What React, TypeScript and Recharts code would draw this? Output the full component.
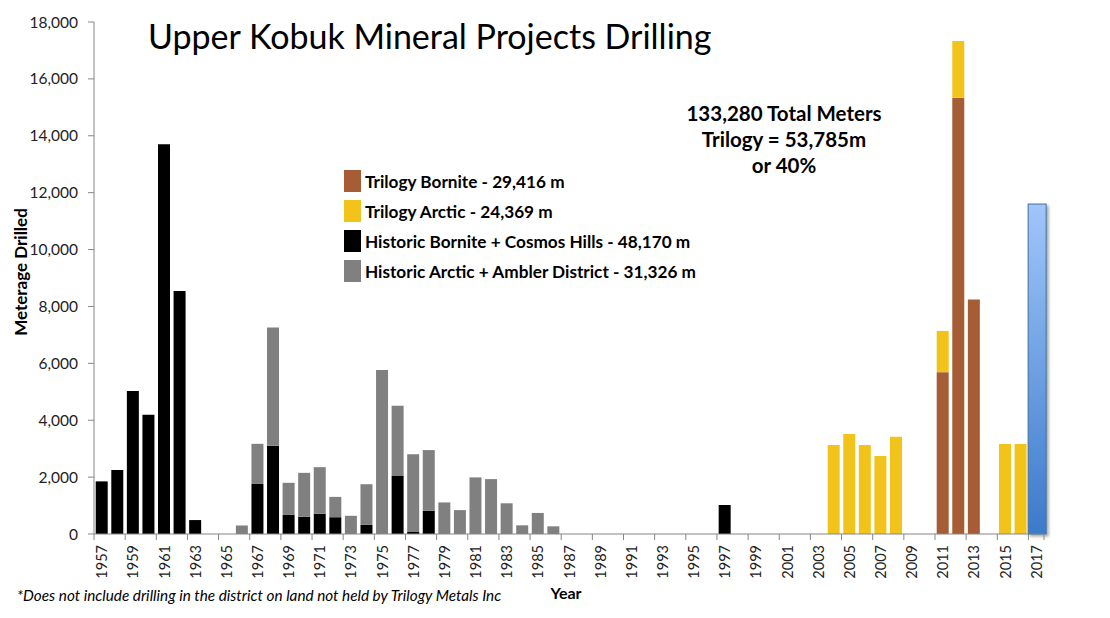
import React from 'react'
import { BarChart, Bar, XAxis, YAxis } from 'recharts'

const years = [
  1957, 1958, 1959, 1960, 1961, 1962, 1963, 1964, 1965, 1966,
  1967, 1968, 1969, 1970, 1971, 1972, 1973, 1974, 1975, 1976,
  1977, 1978, 1979, 1980, 1981, 1982, 1983, 1984, 1985, 1986,
  1987, 1988, 1989, 1990, 1991, 1992, 1993, 1994, 1995, 1996,
  1997, 1998, 1999, 2000, 2001, 2002, 2003, 2004, 2005, 2006,
  2007, 2008, 2009, 2010, 2011, 2012, 2013, 2014, 2015, 2016,
  2017,
]

// metres drilled per year, by series (years not listed are 0)
const historicBornite: Record<number, number> = {
  1957: 1850, 1958: 2250, 1959: 5030, 1960: 4190, 1961: 13700, 1962: 8540, 1963: 490,
  1967: 1760, 1968: 3100, 1969: 670, 1970: 610, 1971: 710, 1972: 590, 1974: 320,
  1976: 2040, 1977: 70, 1978: 820, 1997: 1020,
}

const historicArctic: Record<number, number> = {
  1966: 300, 1967: 1410, 1968: 4160, 1969: 1130, 1970: 1540, 1971: 1640, 1972: 715,
  1973: 640, 1974: 1430, 1975: 5770, 1976: 2470, 1977: 2730, 1978: 2130, 1979: 1110,
  1980: 840, 1981: 1990, 1982: 1930, 1983: 1080, 1984: 305, 1985: 740, 1986: 270,
}

const trilogyBornite: Record<number, number> = { 2011: 5690, 2012: 15340, 2013: 8240 }

const trilogyArctic: Record<number, number> = {
  2004: 3130, 2005: 3520, 2006: 3130, 2007: 2740, 2008: 3420,
  2011: 1450, 2012: 1990, 2015: 3160, 2016: 3160,
}

const program2017: Record<number, number> = { 2017: 11600 }

const yTicks = [0, 2000, 4000, 6000, 8000, 10000, 12000, 14000, 16000, 18000]

const legendItems = [
  { name: 'Trilogy Bornite - 29,416 m', color: '#A65D36' },
  { name: 'Trilogy Arctic - 24,369 m', color: '#F1C31B' },
  { name: 'Historic Bornite + Cosmos Hills - 48,170 m', color: '#000000' },
  { name: 'Historic Arctic + Ambler District - 31,326 m', color: '#808080' },
]

const noteLines = ['133,280 Total Meters', 'Trilogy = 53,785m', 'or 40%']

const data = years.map((year) => ({
  year,
  historicBornite: historicBornite[year] ?? 0,
  historicArctic: historicArctic[year] ?? 0,
  trilogyBornite: trilogyBornite[year] ?? 0,
  trilogyArctic: trilogyArctic[year] ?? 0,
  program2017: program2017[year] ?? 0,
}))

const FONT = 'Lato, "Liberation Sans", sans-serif'
const AXIS = '#868686'
const PLOT_LEFT = 94
const PLOT_RIGHT = 1044
const band = (PLOT_RIGHT - PLOT_LEFT) / years.length

function YearTick(props: any) {
  const { x, y, payload } = props
  const ty = y + 11
  return (
    <g>
      <line x1={x - band / 2} x2={x - band / 2} y1={y} y2={y + 6} stroke={AXIS} />
      {payload.value === 2017 && (
        <line x1={x + band / 2} x2={x + band / 2} y1={y} y2={y + 6} stroke={AXIS} />
      )}
      <text
        x={x}
        y={ty}
        transform={`rotate(-90 ${x} ${ty})`}
        textAnchor="end"
        dominantBaseline="central"
        fontSize={14.5}
        fontFamily={FONT}
        fill="#222"
      >
        {payload.value}
      </text>
    </g>
  )
}

function BlueBar(props: any) {
  const { x, y, width, height } = props
  if (!height) return null
  return (
    <rect
      x={x - 2}
      y={y}
      width={width + 6}
      height={height}
      fill="url(#blueGrad)"
      stroke="#41719C"
      strokeWidth={1}
      filter="url(#barShadow)"
    />
  )
}

export default function App() {
  return (
    <div style={{ position: 'relative', width: 1110, height: 618, background: '#fff', fontFamily: FONT, color: '#000' }}>
      <style>{'body{margin:0}'}</style>
      <BarChart
        width={1110}
        height={618}
        data={data}
        margin={{ top: 22, right: 66, bottom: 0, left: 0 }}
        barCategoryGap="11%"
      >
        <defs>
          <linearGradient id="blueGrad" x1="0" y1="0" x2="0" y2="1">
            <stop offset="0%" stopColor="#A0C6FA" />
            <stop offset="100%" stopColor="#3C7ACB" />
          </linearGradient>
          <filter id="barShadow" x="-30%" y="-5%" width="160%" height="110%">
            <feDropShadow dx="2" dy="2" stdDeviation="1.5" floodColor="#000" floodOpacity="0.35" />
          </filter>
        </defs>
        <XAxis
          dataKey="year"
          height={84}
          interval={1}
          tickSize={0}
          tickMargin={0}
          tick={<YearTick />}
          tickLine={false}
          axisLine={{ stroke: AXIS }}
        />
        <YAxis
          width={94}
          domain={[0, 18000]}
          ticks={yTicks}
          tickFormatter={(v: number) => v.toLocaleString('en-US')}
          tick={{ fontSize: 15.5, fontFamily: FONT, fill: '#222' }}
          tickSize={6}
          tickMargin={10}
          tickLine={{ stroke: AXIS }}
          axisLine={{ stroke: AXIS }}
        />
        <Bar dataKey="historicBornite" stackId="a" fill="#000000" isAnimationActive={false} />
        <Bar dataKey="historicArctic" stackId="a" fill="#808080" isAnimationActive={false} />
        <Bar dataKey="trilogyBornite" stackId="a" fill="#A65D36" isAnimationActive={false} />
        <Bar dataKey="trilogyArctic" stackId="a" fill="#F1C31B" isAnimationActive={false} />
        <Bar dataKey="program2017" stackId="a" fill="#5B93E0" shape={<BlueBar />} isAnimationActive={false} />
      </BarChart>

      <div style={{ position: 'absolute', left: 148, top: 14, fontSize: 34, whiteSpace: 'nowrap', lineHeight: '44px' }}>
        Upper Kobuk Mineral Projects Drilling
      </div>

      <div
        style={{
          position: 'absolute',
          left: 20,
          top: 272,
          transform: 'translate(-50%, -50%) rotate(-90deg)',
          fontSize: 17,
          fontWeight: 700,
          whiteSpace: 'nowrap',
        }}
      >
        Meterage Drilled
      </div>

      <div style={{ position: 'absolute', left: 566, top: 592, transform: 'translate(-50%, -50%)', fontSize: 16, fontWeight: 700 }}>
        Year
      </div>

      <div style={{ position: 'absolute', left: 17, top: 586, fontSize: 15.3, fontStyle: 'italic', whiteSpace: 'nowrap' }}>
        *Does not include drilling in the district on land not held by Trilogy Metals Inc
      </div>

      <div style={{ position: 'absolute', left: 344, top: 166 }}>
        {legendItems.map((item) => (
          <div key={item.name} style={{ display: 'flex', alignItems: 'center', height: 30 }}>
            <div style={{ width: 17, height: 22, background: item.color, marginRight: 4 }} />
            <span style={{ fontSize: 17.2, fontWeight: 700, whiteSpace: 'nowrap' }}>{item.name}</span>
          </div>
        ))}
      </div>

      <div style={{ position: 'absolute', left: 784, top: 100, transform: 'translateX(-50%)', textAlign: 'center' }}>
        {noteLines.map((line) => (
          <div key={line} style={{ fontSize: 20.5, fontWeight: 700, lineHeight: '26px', whiteSpace: 'nowrap' }}>
            {line}
          </div>
        ))}
      </div>
    </div>
  )
}
